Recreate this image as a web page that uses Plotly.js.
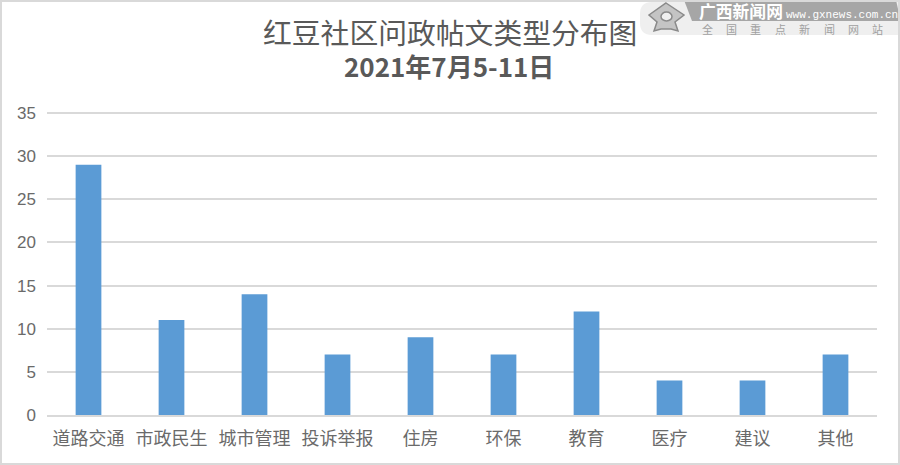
<!DOCTYPE html>
<html><head><meta charset="utf-8">
<script src="https://cdn.plot.ly/plotly-3.0.1.min.js"></script>
<style>html,body{margin:0;padding:0;background:#fff}#c{width:900px;height:465px}</style>
</head><body><div id="c"></div>
<script>
const categories=["道路交通","市政民生","城市管理","投诉举报","住房","环保","教育","医疗","建议","其他"];
const counts=[29,11,14,7,9,7,12,4,4,7];
const tickVals=[0,5,10,15,20,25,30,35];
const titleLine1="红豆社区问政帖文类型分布图";
const titleLine2="2021年7月5-11日";
const siteName="广西新闻网";
const siteUrl="www.gxnews.com.cn";
const sloganChars=["全","国","重","点","新","闻","网","站"];
const W=900,H=465,L=47,R=23,T=112,B=50;
const px=x=>(x-L)/(W-L-R), py=y=>(H-B-y)/(H-T-B);
const cjk='"Noto Sans CJK SC","Noto Sans",sans-serif';
const shapes=[
 {type:'rect',xref:'paper',yref:'paper',x0:px(1),x1:px(899),y0:py(1),y1:py(464),line:{color:'#d9d9d9',width:2},fillcolor:'rgba(0,0,0,0)'},
 {type:'path',xref:'paper',yref:'paper',layer:'below',
  path:`M ${px(652)} ${py(2)} L ${px(899)} ${py(2)} L ${px(899)} ${py(35)} L ${px(652)} ${py(35)} Q ${px(640)} ${py(35)} ${px(640)} ${py(23)} L ${px(640)} ${py(14)} Q ${px(640)} ${py(2)} ${px(652)} ${py(2)} Z`,
  fillcolor:'#efefef',line:{width:0}},
 {type:'path',xref:'paper',yref:'paper',layer:'below',
  path:`M ${px(684)} ${py(0)} L ${px(896)} ${py(0)} Q ${px(899)} ${py(10)} ${px(899)} ${py(21)} L ${px(692)} ${py(21)} Z`,
  fillcolor:'#a6a6a6',line:{width:0}},
 {type:'path',xref:'paper',yref:'paper',layer:'below',
  path:`M ${px(666)} ${py(3)} L ${px(684)} ${py(15)} L ${px(675)} ${py(22)} L ${px(678)} ${py(31)} L ${px(671)} ${py(29)} L ${px(661)} ${py(29)} L ${px(654)} ${py(31)} L ${px(657)} ${py(22)} L ${px(649)} ${py(15)} Z`,
  fillcolor:'#c4c4c4',line:{color:'#8a8a8a',width:1.5}},
 {type:'circle',xref:'paper',yref:'paper',layer:'below',x0:px(661),x1:px(672),y0:py(21),y1:py(12),fillcolor:'#efefef',line:{color:'#8a8a8a',width:1.5}}
];
const ann=(text,x,y,size,color,family)=>({text,xref:'paper',yref:'paper',x:px(x),y:py(y),xanchor:'center',yanchor:'middle',showarrow:false,borderpad:0,font:{family:family||cjk,size,color}});
const annotations=[
 ann(titleLine1,450,31,28.8,'#595959'),
 ann('<b>'+titleLine2+'</b>',449,65.5,26,'#595959'),
 ann('<b>'+siteName+'</b>',740.5,10.5,16.8,'#ffffff'),
 ann(siteUrl,841.5,15,11,'#ffffff','"Liberation Mono",monospace'),
 ...sloganChars.map((c,i)=>ann(c,707+i*24.4,28.5,11,'#a0a0a0'))
];
Plotly.newPlot('c',[{type:'bar',x:categories,y:counts,marker:{color:'#5b9bd5'},hoverinfo:'x+y'}],{
 width:W,height:H,
 margin:{l:L,r:R,t:T,b:B,pad:0},
 paper_bgcolor:'#fff',plot_bgcolor:'#fff',
 bargap:0.69,showlegend:false,
 xaxis:{type:'category',tickfont:{family:cjk,size:18,color:'#6a6a6a'},showgrid:false,zeroline:false,showline:true,linecolor:'#d9d9d9',linewidth:2,ticks:'',ticklen:0,tickangle:0,ticklabelstandoff:6,automargin:false},
 yaxis:{range:[0,35.12],tickvals:tickVals,tickfont:{family:'"Liberation Sans",sans-serif',size:17,color:'#6a6a6a'},gridcolor:'#d9d9d9',gridwidth:2,zeroline:false,showline:false,ticks:'',ticklabelstandoff:10,automargin:false},
 shapes,annotations
},{displayModeBar:false});
</script></body></html>
